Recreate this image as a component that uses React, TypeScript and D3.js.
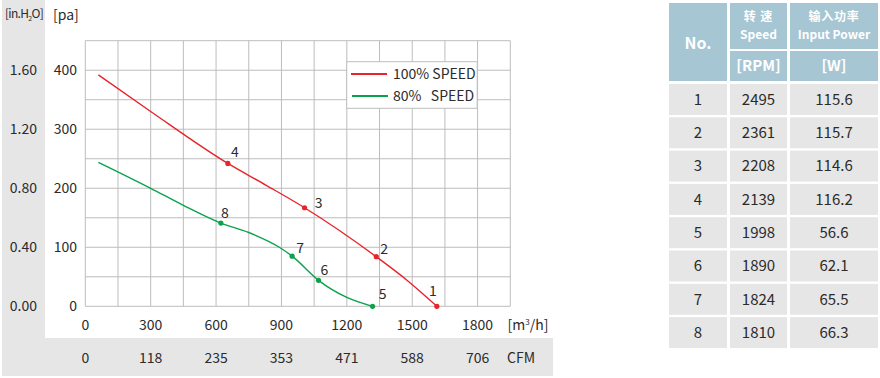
import React from "react";
import * as d3 from "d3";

// ---- data ----
const xTicks = [0, 300, 600, 900, 1200, 1500, 1800];
const cfmLabels = ["0", "118", "235", "353", "471", "588", "706"];
const paTicks = [0, 100, 200, 300, 400];
const inH2OLabels = ["0.00", "0.40", "0.80", "1.20", "1.60"];

const redFlow = [60, 300, 654, 830, 1006, 1335, 1480, 1613];
const redPressure = [392, 330, 242, 205, 167, 84, 43, 0];
const greenFlow = [60, 300, 450, 622, 750, 890, 949, 1070, 1200, 1318];
const greenPressure = [244, 200, 171, 141, 125, 100, 85, 44, 15, 0];

const pointNo = [1, 2, 3, 4, 5, 6, 7, 8];
const pointFlow = [1613, 1335, 1006, 654, 1318, 1070, 949, 622];
const pointPressure = [0, 84, 167, 242, 0, 44, 85, 141];

const legendLabels = ["100% SPEED", "80%\u00a0\u00a0 SPEED"];

const tableNo = ["1", "2", "3", "4", "5", "6", "7", "8"];
const tableRpm = ["2495", "2361", "2208", "2139", "1998", "1890", "1824", "1810"];
const tablePower = ["115.6", "115.7", "114.6", "116.2", "56.6", "62.1", "65.5", "66.3"];

// ---- style ----
const RED = "#e8232b";
const GREEN = "#0aa24d";
const GRID = "#bdbdbd";
const BAND = "#e6e6e6";
const HEAD = "#a6c6d3";
const TXT = "#2b2b2b";
const FONT = "'Noto Sans CJK SC', 'Noto Sans', sans-serif";
const labelOffsets = [
  [-4, -15], [8, -8], [14, -5], [7, -11],
  [10, -12], [6, -10], [8, -8], [4, -10],
];

export default function App() {
  const x = d3.scaleLinear().domain([0, 1950]).range([85.3, 510.3]);
  const y = d3.scaleLinear().domain([0, 450]).range([306.3, 40.7]);
  const line = d3
    .line<[number, number]>()
    .x((d) => x(d[0]))
    .y((d) => y(d[1]))
    .curve(d3.curveMonotoneX);
  const redPts = redFlow.map((f, i) => [f, redPressure[i]] as [number, number]);
  const greenPts = greenFlow.map((f, i) => [f, greenPressure[i]] as [number, number]);
  const vGrid = d3.range(0, 1951, 150);
  const hGrid = d3.range(0, 451, 50);

  const colX = [669, 730, 790];
  const colW = [58, 57, 88];
  const rowTop = (k: number) => 84 + 33.3 * k;

  return (
    <svg
      width={880}
      height={378}
      style={{ position: "absolute", left: 0, top: 0, fontFamily: FONT }}
    >
      <rect x={0} y={0} width={880} height={378} fill="#fff" />
      {/* gray bands */}
      <rect x={2} y={0} width={43} height={376} fill={BAND} />
      <rect x={2} y={338} width={551} height={38} fill={BAND} />

      {/* grid */}
      {vGrid.map((v) => (
        <line key={"v" + v} x1={x(v)} x2={x(v)} y1={y(0)} y2={y(450)} stroke={GRID} strokeWidth={1} />
      ))}
      {hGrid.map((v) => (
        <line key={"h" + v} x1={x(0)} x2={x(1950)} y1={y(v)} y2={y(v)} stroke={GRID} strokeWidth={1} />
      ))}

      {/* axis titles */}
      <text x={24} y={18} fontSize={12} fill={TXT} textAnchor="middle" letterSpacing={-0.7}>
        [in.H<tspan fontSize={7} dy={3}>2</tspan><tspan dy={-3}>O]</tspan>
      </text>
      <text x={53} y={20} fontSize={14} fill={TXT}>[pa]</text>

      {/* y ticks */}
      {paTicks.map((v, i) => (
        <g key={"y" + v}>
          <text x={77} y={y(v)} dy="0.35em" fontSize={14} fill={TXT} textAnchor="end">{v}</text>
          <text x={37} y={y(v)} dy="0.35em" fontSize={14} fill={TXT} textAnchor="end">{inH2OLabels[i]}</text>
        </g>
      ))}

      {/* x ticks */}
      {xTicks.map((v, i) => (
        <g key={"x" + v}>
          <text x={x(v)} y={325} dy="0.35em" fontSize={14} fill={TXT} textAnchor="middle">{v}</text>
          <text x={x(v)} y={358} dy="0.35em" fontSize={14} fill={TXT} textAnchor="middle">{cfmLabels[i]}</text>
        </g>
      ))}
      <text x={528} y={325} dy="0.35em" fontSize={14} fill={TXT} textAnchor="middle">
        [m<tspan fontSize={8} dy={-5}>3</tspan><tspan dy={5}>/h]</tspan>
      </text>
      <text x={521} y={358} dy="0.35em" fontSize={14} fill={TXT} textAnchor="middle">CFM</text>

      {/* curves */}
      <path d={line(redPts) || ""} fill="none" stroke={RED} strokeWidth={1.4} />
      <path d={line(greenPts) || ""} fill="none" stroke={GREEN} strokeWidth={1.4} />

      {/* operating points */}
      {pointNo.map((n, i) => {
        const c = n <= 4 ? RED : GREEN;
        const px = x(pointFlow[i]);
        const py = y(pointPressure[i]);
        return (
          <g key={"p" + n}>
            <circle cx={px} cy={py} r={2.6} fill={c} />
            <text
              x={px + labelOffsets[i][0]}
              y={py + labelOffsets[i][1]}
              dy="0.35em"
              fontSize={14}
              fill={TXT}
              textAnchor="middle"
            >
              {n}
            </text>
          </g>
        );
      })}

      {/* legend */}
      <rect x={346.7} y={61.7} width={130.5} height={46.6} fill="#fff" stroke={GRID} strokeWidth={1} />
      <line x1={351} x2={387} y1={74} y2={74} stroke={RED} strokeWidth={2} />
      <line x1={352} x2={388} y1={96} y2={96} stroke={GREEN} strokeWidth={2} />
      <text x={393} y={74} dy="0.35em" fontSize={14} fill={TXT}>{legendLabels[0]}</text>
      <text x={393} y={96} dy="0.35em" fontSize={14} fill={TXT}>{legendLabels[1]}</text>

      {/* table header */}
      <rect x={colX[0]} y={3} width={colW[0]} height={78} fill={HEAD} />
      <rect x={colX[1]} y={3} width={colW[1]} height={46} fill={HEAD} />
      <rect x={colX[2]} y={3} width={colW[2]} height={46} fill={HEAD} />
      <rect x={colX[1]} y={51} width={colW[1]} height={30} fill={HEAD} />
      <rect x={colX[2]} y={51} width={colW[2]} height={30} fill={HEAD} />
      <text x={colX[0] + colW[0] / 2} y={43} dy="0.35em" fontSize={16} fontWeight="bold" fill="#fff" textAnchor="middle">No.</text>
      <text x={colX[1] + colW[1] / 2} y={16.5} dy="0.35em" fontSize={12} fontWeight="bold" fill="#fff" textAnchor="middle" letterSpacing={1}>转 速</text>
      <text x={colX[1] + colW[1] / 2} y={35} dy="0.35em" fontSize={12} fontWeight="bold" fill="#fff" textAnchor="middle">Speed</text>
      <text x={colX[2] + colW[2] / 2} y={16.5} dy="0.35em" fontSize={12} fontWeight="bold" fill="#fff" textAnchor="middle" letterSpacing={0.8}>输入功率</text>
      <text x={colX[2] + colW[2] / 2} y={35} dy="0.35em" fontSize={12} fontWeight="bold" fill="#fff" textAnchor="middle">Input Power</text>
      <text x={colX[1] + colW[1] / 2} y={66} dy="0.35em" fontSize={15} fontWeight="bold" fill="#fff" textAnchor="middle">[RPM]</text>
      <text x={colX[2] + colW[2] / 2} y={66} dy="0.35em" fontSize={15} fontWeight="bold" fill="#fff" textAnchor="middle">[W]</text>

      {/* table body */}
      {tableNo.map((n, k) => {
        const vals = [n, tableRpm[k], tablePower[k]];
        return (
          <g key={"r" + n}>
            {vals.map((v, c) => (
              <g key={c}>
                <rect x={colX[c]} y={rowTop(k)} width={colW[c]} height={31} fill={BAND} />
                <text
                  x={colX[c] + colW[c] / 2}
                  y={rowTop(k) + 15.5}
                  dy="0.35em"
                  fontSize={15}
                  fill={TXT}
                  textAnchor="middle"
                >
                  {v}
                </text>
              </g>
            ))}
          </g>
        );
      })}
    </svg>
  );
}
